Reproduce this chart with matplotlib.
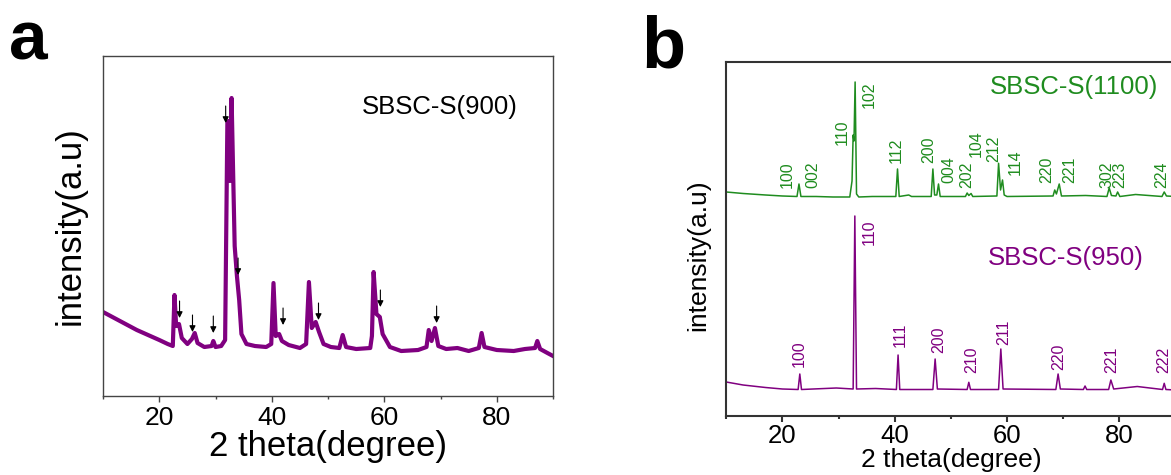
import matplotlib
matplotlib.use("Agg")
import matplotlib.pyplot as plt
from matplotlib.ticker import MultipleLocator

plt.rcParams["font.family"] = ["Liberation Sans", "DejaVu Sans"]

PURPLE = "#800080"
GREEN = "#1f8c1f"

# panel a: SBSC-S(900) (arb. units)
a_theta = [10.0, 12.0, 14.0, 16.0, 18.0, 20.0, 21.5, 22.4, 22.7, 23.0, 23.5, 24.0, 25.0, 25.8,
           26.3, 26.8, 28.0, 29.3, 29.6, 30.0, 31.0, 31.7, 32.1, 32.3, 32.55, 32.85, 33.1, 33.4,
           33.8, 34.2, 34.6, 35.5, 37.0, 39.0, 39.9, 40.3, 40.7, 41.3, 41.8, 43.0, 45.0, 46.1,
           46.6, 47.1, 47.8, 48.4, 49.2, 50.5, 52.0, 52.6, 53.2, 55.0, 57.5, 57.8, 58.1, 58.6,
           59.2, 59.7, 60.3, 61.0, 63.0, 66.0, 67.5, 67.9, 68.4, 69.0, 69.6, 71.0, 73.0, 75.0,
           76.8, 77.3, 77.8, 80.0, 83.0, 85.0, 86.8, 87.2, 87.7, 89.0, 90.0]
a_int = [84, 78, 72, 66, 61, 56, 52, 50, 101, 70, 72, 58, 52, 57,
         63, 53, 49, 50, 55, 49, 50, 56, 273, 275, 215, 298, 230, 150,
         120, 96, 62, 52, 50, 49, 52, 113, 60, 62, 55, 51, 48, 52,
         114, 68, 74, 64, 52, 49, 48, 61, 49, 47, 48, 60, 124, 82,
         79, 62, 56, 49, 45, 46, 49, 66, 55, 68, 50, 47, 48, 45,
         48, 63, 49, 46, 45, 47, 48, 55, 47, 43, 40]
a_arrow_theta = [23.6, 25.9, 29.6, 31.8, 34.0, 42.0, 48.3, 59.3, 69.3]
a_arrow_tip = [78, 64, 63, 273, 121, 71, 76, 89, 73]

# panel b: SBSC-S(1100) (offset trace) and SBSC-S(950)
g_theta = [10, 13, 17, 20, 22.6, 22.95, 23.3, 26, 29, 32.0, 32.4, 32.6, 32.75, 32.95, 33.2,
           33.6, 36, 40.2, 40.5, 40.8, 42.5, 43.0, 46.5, 46.8, 47.1, 47.5, 47.8, 48.1, 52.6,
           52.9, 53.2, 53.6, 53.9, 58.2, 58.5, 58.85, 59.2, 59.5, 60, 68.2, 68.5, 68.8, 69.3,
           69.7, 74.0, 77.8, 78.2, 78.6, 79.4, 79.7, 80.1, 82.9, 87.6, 88.0, 88.4, 90]
g_int = [224, 222.5, 221, 220, 219.5, 232, 219.5, 219.5, 219, 219, 235, 281, 275, 334, 222,
         219, 219.5, 219.5, 247, 219.5, 221, 219.5, 219.5, 247, 221, 221, 232, 219.5, 219.5,
         223, 220.5, 222.5, 219.5, 220, 252.7, 226, 236, 221, 219.5, 220, 226, 222, 232,
         220, 220.5, 219.5, 228, 220.5, 220, 224, 219.5, 221.5, 219.5, 224, 220, 219.5]
g_hkl = ["100", "002", "110", "102", "112", "200", "004", "202", "104", "212", "114",
         "220", "221", "302", "223", "224"]
g_hkl_theta = [20.9, 25.4, 30.6, 35.4, 40.2, 46.1, 49.7, 52.8, 54.5, 57.7, 61.4,
               67.1, 71.2, 77.8, 80.1, 87.6]
g_hkl_base = [227.7, 227.7, 271, 307.7, 252.7, 252.7, 232.7, 227.7, 259.3, 254.3, 241,
              232.7, 233.3, 227.7, 227.7, 227.7]

p_theta = [10, 13, 17, 20, 22.8, 23.1, 23.4, 29.6, 32.6, 32.9, 33.2, 36.6, 40.3, 40.6, 40.9,
           46.8, 47.2, 47.6, 52.9, 53.2, 53.5, 58.5, 58.9, 59.3, 68.7, 69.1, 69.5, 73.6, 73.9,
           74.2, 78.1, 78.5, 79.0, 83.2, 87.7, 88.0, 88.3, 90]
p_int = [34, 31, 28.5, 27, 26.5, 42, 26.5, 28, 27, 200, 27, 27.5, 26.5, 61, 26.5,
         26.5, 57, 27, 26.5, 33.7, 26.5, 26.5, 67, 27, 26.5, 42, 27, 26.5, 30,
         26.5, 26.5, 36, 27, 29.5, 26.5, 32.7, 26.5, 26]
p_hkl = ["100", "110", "111", "200", "210", "211", "220", "221", "222"]
p_hkl_theta = [23.0, 35.5, 40.9, 47.8, 53.7, 59.4, 69.3, 78.6, 88.0]
p_hkl_base = [49.3, 171, 69.3, 62.7, 42.7, 71, 46, 42.7, 42.7]


def style_axes(ax, spine_color, spine_lw):
    ax.set_xlim(10, 90)
    ax.set_yticks([])
    ax.xaxis.set_major_locator(MultipleLocator(20))
    ax.xaxis.set_minor_locator(MultipleLocator(10))
    ax.tick_params(axis="x", which="both", direction="out", color=spine_color)
    ax.tick_params(axis="x", which="major", length=4, width=spine_lw)
    ax.tick_params(axis="x", which="minor", length=2.5, width=spine_lw)
    for spine in ax.spines.values():
        spine.set_color(spine_color)
        spine.set_linewidth(spine_lw)


fig = plt.figure(figsize=(11.71, 4.75), dpi=100)

# panel a
ax_a = fig.add_axes([0.0880, 0.1663, 0.3843, 0.7158])
ax_a.plot(a_theta, a_int, color=PURPLE, lw=3.0, solid_joinstyle="round")
for x, tip in zip(a_arrow_theta, a_arrow_tip):
    ax_a.annotate("", xy=(x, tip), xytext=(x, tip + 17),
                  arrowprops=dict(arrowstyle="-|>", color="k", lw=0.8, mutation_scale=9,
                                  shrinkA=0, shrinkB=0))
ax_a.set_ylim(0, 340)
style_axes(ax_a, "#444444", 1.0)
ax_a.tick_params(axis="x", labelsize=19, pad=3)
ax_a.set_xlabel("2 theta(degree)", fontsize=25, labelpad=0)
ax_a.set_ylabel("intensity(a.u)", fontsize=25, labelpad=12)
ax_a.text(69.8, 289, "SBSC-S(900)", fontsize=18.5, ha="center", va="center")

# panel b
ax_b = fig.add_axes([0.6202, 0.1242, 0.3836, 0.7453])
ax_b.plot(g_theta, g_int, color=GREEN, lw=1.1)
ax_b.plot(p_theta, p_int, color=PURPLE, lw=1.1)
for lab, x, y in zip(g_hkl, g_hkl_theta, g_hkl_base):
    ax_b.text(x, y, lab, color=GREEN, fontsize=11.5, rotation=90, ha="center", va="bottom")
for lab, x, y in zip(p_hkl, p_hkl_theta, p_hkl_base):
    ax_b.text(x, y, lab, color=PURPLE, fontsize=11.5, rotation=90, ha="center", va="bottom")
ax_b.set_ylim(0, 354)
style_axes(ax_b, "#333333", 1.5)
ax_b.tick_params(axis="x", labelsize=18.5, pad=2)
ax_b.set_xlabel("2 theta(degree)", fontsize=19, labelpad=0)
ax_b.set_ylabel("intensity(a.u)", fontsize=19)
ax_b.yaxis.set_label_coords(-0.035, 0.455)
ax_b.text(72.0, 329, "SBSC-S(1100)", color=GREEN, fontsize=18.5, ha="center", va="center")
ax_b.text(70.5, 158, "SBSC-S(950)", color=PURPLE, fontsize=18.5, ha="center", va="center")

fig.text(0.008, 0.874, "a", fontsize=50, fontweight="bold", ha="left", va="baseline")
fig.text(0.548, 0.857, "b", fontsize=52, fontweight="bold", ha="left", va="baseline")

fig.savefig("out.png", dpi=100)
